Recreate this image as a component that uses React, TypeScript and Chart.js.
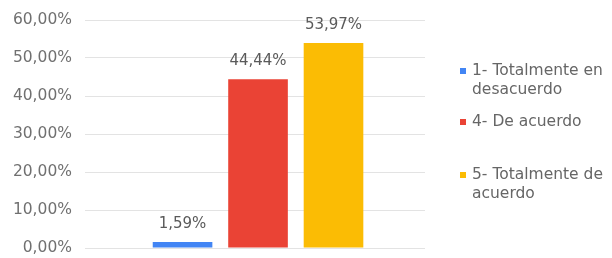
import React, { useEffect, useRef } from "react";
import { Chart, registerables } from "chart.js";

Chart.register(...registerables);

const categoryPosition = 0;
const seriesNames = ["1- Totalmente en desacuerdo", "4- De acuerdo", "5- Totalmente de acuerdo"];
const legendLines = [["1- Totalmente en", "desacuerdo"], ["4- De acuerdo"], ["5- Totalmente de", "acuerdo"]];
const seriesValues = [1.59, 44.44, 53.97];
const seriesColors = ["#4285F4", "#EA4335", "#FBBC04"];
const yTicks = [0, 10, 20, 30, 40, 50, 60];

const fmt = (v: number) => v.toFixed(2).replace(".", ",") + "%";
const FONT = "'DejaVu Sans', sans-serif";

const dataLabelPlugin = {
  id: "dataLabels",
  afterDatasetsDraw(chart: any) {
    const ctx = chart.ctx;
    ctx.save();
    ctx.font = `15px ${FONT}`;
    ctx.fillStyle = "#5a5a5a";
    ctx.textAlign = "center";
    ctx.textBaseline = "middle";
    chart.data.datasets.forEach((ds: any, i: number) => {
      const meta = chart.getDatasetMeta(i);
      meta.data.forEach((bar: any, j: number) => {
        ctx.fillText(fmt(ds.data[j].y), bar.x, bar.y - 18);
      });
    });
    ctx.restore();
  },
};

const legendPlugin = {
  id: "sideLegend",
  afterDraw(chart: any) {
    const ctx = chart.ctx;
    const itemY = [71, 122, 175];
    const lineH = 19;
    ctx.save();
    ctx.font = `15.5px ${FONT}`;
    ctx.textAlign = "left";
    ctx.textBaseline = "middle";
    chart.data.datasets.forEach((ds: any, i: number) => {
      const y = itemY[i];
      ctx.fillStyle = ds.backgroundColor;
      ctx.fillRect(460, y - 3, 6, 6);
      ctx.fillStyle = "#666666";
      (ds.legendLines as string[]).forEach((t, k) => {
        ctx.fillText(t, 472, y + k * lineH);
      });
    });
    ctx.restore();
  },
};

export default function App() {
  const ref = useRef<HTMLCanvasElement>(null);
  useEffect(() => {
    if (!ref.current) return;
    const chart = new Chart(ref.current, {
      type: "bar",
      data: {
        datasets: seriesNames.map((name, i) => ({
          label: name,
          legendLines: legendLines[i],
          data: [{ x: categoryPosition, y: seriesValues[i] }],
          backgroundColor: seriesColors[i],
          borderWidth: 0,
          categoryPercentage: 0.666,
          barPercentage: 0.79,
        })) as any,
      },
      options: {
        animation: false,
        responsive: false,
        layout: { padding: { top: 20, right: 187, bottom: 10, left: 0 } },
        plugins: {
          legend: { display: false },
          tooltip: { enabled: false },
        },
        scales: {
          x: {
            type: "linear",
            display: false,
            min: -1,
            max: 0.965,
            afterBuildTicks: (scale: any) => {
              scale.ticks = [];
            },
          },
          y: {
            min: 0,
            max: 60,
            afterBuildTicks: (scale: any) => {
              scale.ticks = yTicks.map((v) => ({ value: v }));
            },
            afterFit: (scale: any) => {
              scale.width = 85;
              scale.paddingTop = 0;
              scale.paddingBottom = 0;
            },
            border: { display: false },
            grid: { color: "#e3e3e3", drawTicks: false, lineWidth: 1 },
            ticks: {
              padding: 13,
              color: "#707070",
              font: { family: FONT, size: 15.5 },
              callback: (v: any) => fmt(Number(v)),
            },
          },
        },
      },
      plugins: [dataLabelPlugin, legendPlugin],
    });
    return () => chart.destroy();
  }, []);
  return (
    <div style={{ position: "fixed", left: 0, top: 0, width: 612, height: 258, background: "#fff" }}>
      <canvas ref={ref} width={612} height={258} />
    </div>
  );
}
